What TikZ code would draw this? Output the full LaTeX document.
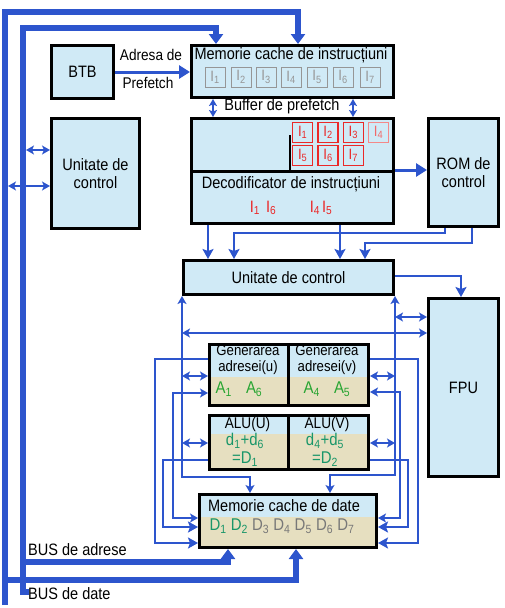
\documentclass[tikz,border=0pt]{standalone}
\usepackage{fontspec}
\setmainfont{Liberation Sans}[FakeStretch=0.88]
\usepackage{xcolor}
\usetikzlibrary{arrows.meta}
\definecolor{cellblue}{RGB}{208,234,246}
\definecolor{celltan}{RGB}{230,223,192}
\definecolor{linkblue}{RGB}{45,85,205}
\definecolor{agreen}{RGB}{40,165,50}
\definecolor{dgreen}{RGB}{25,150,105}
\definecolor{instgray}{RGB}{150,150,150}
\definecolor{datagray}{RGB}{120,120,120}
\definecolor{instred}{RGB}{235,40,40}

\begin{document}
\begin{tikzpicture}[x=1pt, y=-1pt,
    font=\fontsize{16.5}{18}\selectfont,
    unit/.style={rectangle, draw=black, line width=3pt, fill=cellblue, anchor=north west, inner sep=0pt, align=center},
    lower/.style={path picture={\fill[celltan] (path picture bounding box.south west) rectangle ([yshift=#1]path picture bounding box.south east);}},
    txt/.style={inner sep=0pt, align=center},
    gcell/.style={rectangle, draw=instgray, line width=1pt, text=instgray, minimum size=20pt, inner sep=0pt, font=\fontsize{15}{15}\selectfont},
    rcell/.style={gcell, draw=instred, text=instred, line width=1.3pt},
    bus/.style={draw=linkblue, line width=6pt, -{Triangle[width=14pt,length=10pt]}},
    heavy/.style={draw=linkblue, line width=3pt, -{Triangle[width=13pt,length=11pt]}},
    link/.style={draw=linkblue, line width=2pt, -{Stealth[width=11pt,length=10pt,inset=2pt]}},
    dlink/.style={draw=linkblue, line width=2pt, {Stealth[width=9pt,length=8pt,inset=2pt]}-{Stealth[width=9pt,length=8pt,inset=2pt]}},
    vlink/.style={draw=linkblue, line width=1.5pt, {Stealth[width=8pt,length=7pt,inset=1.5pt]}-{Stealth[width=8pt,length=7pt,inset=1.5pt]}}
]
    \useasboundingbox (0,0) rectangle (504,608);

    \node [unit, minimum width=62pt, minimum height=53pt] (btb) at (50,44) {BTB};
    \node [unit, minimum width=202pt, minimum height=52pt] (icache) at (190,44) {};
    \node [unit, minimum width=202pt, minimum height=53pt] (pbuf) at (190,117) {};
    \node [unit, minimum width=202pt, minimum height=52pt] (dec) at (190,170) {};
    \node [unit, minimum width=70pt, minimum height=108pt] (rom) at (427,117) {ROM de\\control};
    \node [unit, minimum width=88pt, minimum height=110pt] (cu1) at (50,117) {Unitate de\\control};
    \node [unit, minimum width=210pt, minimum height=34pt] (cu2) at (182,259) {Unitate de control};
    \node [unit, minimum width=70pt, minimum height=178pt] (fpu) at (427,297) {FPU};
    \node [unit, lower=29pt, minimum width=79pt, minimum height=61pt] (genu) at (208,343) {};
    \node [unit, lower=29pt, minimum width=80pt, minimum height=61pt] (genv) at (287,343) {};
    \node [unit, lower=36pt, minimum width=79pt, minimum height=54pt] (aluu) at (208,414) {};
    \node [unit, lower=36pt, minimum width=80pt, minimum height=54pt] (aluv) at (287,414) {};
    \node [unit, lower=31pt, minimum width=177pt, minimum height=53pt] (dcache) at (198,493) {};

    \node [txt, font=\fontsize{15.5}{17}\selectfont] (adr1) at (151,55) {Adresa de};
    \node [txt, font=\fontsize{15.5}{17}\selectfont] (adr2) at (148,83) {Prefetch};
    \node [txt] (icachet) at (291,55) {Memorie cache de instruc\char"021B iuni};
    \foreach \i/\x in {1/215,2/241,3/266,4/291,5/317,6/343,7/370}
        \node [gcell] (ic\i) at (\x,77) {I\textsubscript{\i}};
    \node [txt] (pbuft) at (282,106) {Buffer de prefetch};
    \foreach \i/\x in {1/302.7,2/328,3/353.3}
        \node [rcell] (pb\i) at (\x,132.3) {I\textsubscript{\i}};
    \node [rcell, draw=instred!55, text=instred!70] (pb4) at (378.5,132.3) {I\textsubscript{4}};
    \foreach \i/\x in {5/302.7,6/328,7/353.3}
        \node [rcell] (pb\i) at (\x,155.7) {I\textsubscript{\i}};
    \draw [line width=2.5pt] (290,135) -- (290,0 |- pbuf.south);
    \node [txt] (dect) at (291,184) {Decodificator de instruc\char"021B iuni};
    \node [txt, text=instred] (dec1) at (263,208) {I\textsubscript{1}\hspace{6pt}I\textsubscript{6}};
    \node [txt, text=instred] (dec2) at (321,208) {I\textsubscript{4}\hspace{2pt}I\textsubscript{5}};

    \node [txt, font=\fontsize{15}{16}\selectfont] (genut) at (248,360) {Generarea\\adresei(u)};
    \node [txt, font=\fontsize{15}{16}\selectfont] (genvt) at (327,360) {Generarea\\adresei(v)};
    \node [txt, text=agreen, font=\fontsize{17}{18}\selectfont] (genua) at (239,389) {A\textsubscript{1}\hspace{14pt}A\textsubscript{6}};
    \node [txt, text=agreen, font=\fontsize{17}{18}\selectfont] (genva) at (327,389) {A\textsubscript{4}\hspace{14pt}A\textsubscript{5}};
    \node [txt, font=\fontsize{15.5}{17}\selectfont] (aluut) at (247.5,424) {ALU(U)};
    \node [txt, font=\fontsize{15.5}{17}\selectfont] (aluvt) at (327,424) {ALU(V)};
    \node [txt, text=dgreen, font=\fontsize{17}{18}\selectfont] (aluud) at (245,450) {d\textsubscript{1}+d\textsubscript{6}\\=D\textsubscript{1}};
    \node [txt, text=dgreen, font=\fontsize{17}{18}\selectfont] (aluvd) at (325,450) {d\textsubscript{4}+d\textsubscript{5}\\=D\textsubscript{2}};
    \node [txt] (dcachet) at (284,506) {Memorie cache de date};
    \node [txt, text=datagray, font=\fontsize{17}{18}\selectfont] (dcached) at (282,526) {\textcolor{dgreen}{D\textsubscript{1} D\textsubscript{2}} D\textsubscript{3} D\textsubscript{4} D\textsubscript{5} D\textsubscript{6} D\textsubscript{7}};

    \node [txt, anchor=west] (busa) at (28,550) {BUS de adrese};
    \node [txt, anchor=west] (busd) at (28,594) {BUS de date};

    \coordinate (dbus) at (5,605);
    \coordinate (abus) at (29,592);
    \draw [bus] (dbus) -- (5,12) -| (298,0 |- icache.north);
    \draw [bus] (abus) -| (23,28) -| (216,0 |- icache.north);
    \draw [bus] (23,562) -| (228,0 |- dcache.south);
    \draw [bus] (5,580) -| (296,0 |- dcache.south);

    \draw [heavy] (btb.east) -- (btb.east -| icache.west);
    \draw [vlink] (213,0 |- icache.south) -- (213,0 |- pbuf.north);
    \draw [vlink] (353,0 |- icache.south) -- (353,0 |- pbuf.north);
    \draw [heavy] (dec.north east) -- (dec.north east -| rom.west);
    \draw [dlink] (26,150) -- (cu1.west |- 0,150);
    \draw [dlink] (8,186) -- (cu1.west |- 0,186);

    \draw [link] (208,0 |- dec.south) -- (208,0 |- cu2.north);
    \draw [link] (340,0 |- dec.south) -- (340,0 |- cu2.north);
    \draw [link] (445,0 |- rom.south) |- (234,233) -- (234,0 |- cu2.north);
    \draw [link] (472,0 |- rom.south) |- (365,243) -- (365,0 |- cu2.north);
    \draw [link] (cu2.east |- 0,276) -| (461,0 |- fpu.north);

    \draw [dlink] (cu2.south west) |- (250,477) -- (250,0 |- dcache.north);
    \draw [dlink] (cu2.south east) |- (330,475) -- (330,0 |- dcache.north);
    \draw [dlink] (cu2.west |- 0,333) -- (fpu.west |- 0,333);
    \draw [dlink] (cu2.east |- 0,317) -- (fpu.west |- 0,317);

    \draw [dlink] (cu2.west |- 0,376) -- (genu.west |- 0,376);
    \draw [link] (genu.west |- 0,359) -- (155,359) |- (dcache.west |- 0,543);
    \draw [dlink] (genu.west |- 0,393) -- (173,393) |- (dcache.west |- 0,518);
    \draw [dlink] (cu2.west |- 0,443) -- (aluu.west |- 0,443);
    \draw [link] (aluu.west |- 0,460) -- (163,460) |- (dcache.west |- 0,527);

    \draw [link] (genv.east |- 0,359) -- (418,359) |- (dcache.east |- 0,543);
    \draw [dlink] (cu2.east |- 0,376) -- (genv.east |- 0,376);
    \draw [dlink] (genv.east |- 0,392) -- (400,392) |- (dcache.east |- 0,518);
    \draw [dlink] (cu2.east |- 0,443) -- (aluv.east |- 0,443);
    \draw [link] (aluv.east |- 0,460) -- (408,460) |- (dcache.east |- 0,527);
\end{tikzpicture}
\end{document}
